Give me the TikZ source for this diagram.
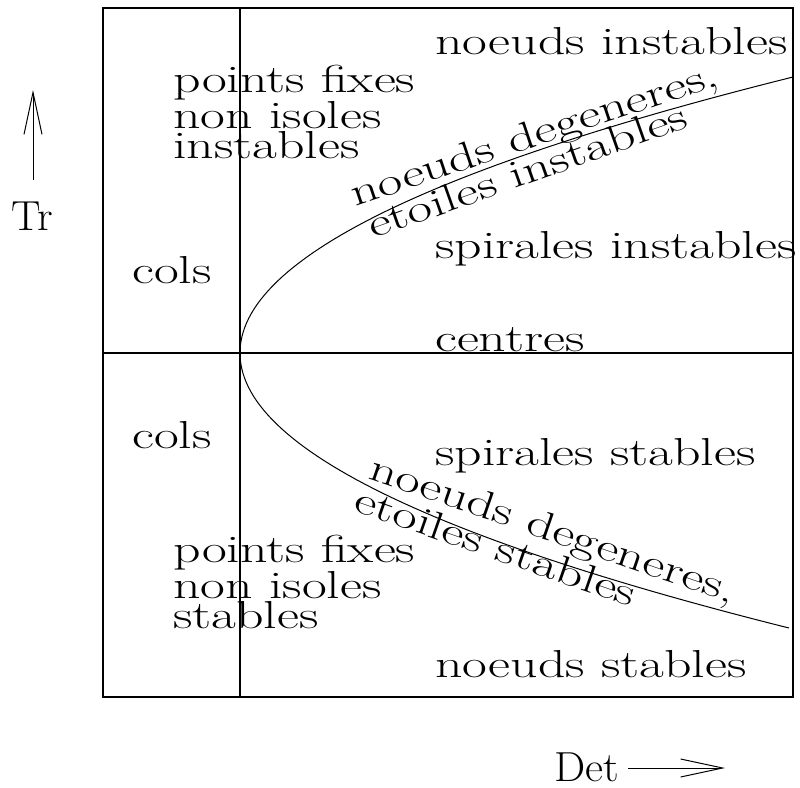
\documentclass[tikz,border=0pt]{standalone}
\usepackage{tikz}
\usetikzlibrary{arrows.meta}

\begin{document}
\begin{tikzpicture}[
      x=1pt, y=-1pt,
      lbl/.style={anchor=base west, inner sep=0pt, xscale=1.38, font=\fontsize{39}{30}\selectfont, align=left},
      axlbl/.style={inner sep=0pt, xscale=1.05, font=\fontsize{42}{30}\selectfont},
      frame/.style={line width=1.2pt},
      axis/.style={line width=1pt, -{Straight Barb[length=42pt, width=18pt, line width=1pt]}}
    ]
    \useasboundingbox (0,0) rectangle (800,787);

    % cadre et axes
    \draw[frame] (103,8) rectangle (793,697);
    \draw[frame] (240,8) -- (240,697);
    \draw[frame] (103,353) -- (793,353);
    \draw[line width=1pt] plot[domain=-276:275, samples=120] ({240+553*(\x/276)^2}, {353+\x});

    % regions
    \node[lbl] (ninst) at (435,54) {noeuds instables};
    \node[lbl] (pfinst) at (173,158) {points fixes\\non isoles\\instables};
    \node[lbl] (colsh) at (132,283) {cols};
    \node[lbl] (spinst) at (435,258) {spirales instables};
    \node[lbl] (centres) at (435,351) {centres};
    \node[lbl] (colsb) at (132,448) {cols};
    \node[lbl] (spst) at (435,465) {spirales stables};
    \node[lbl] (pfst) at (173,628) {points fixes\\non isoles\\stables};
    \node[lbl] (nst) at (435,677) {noeuds stables};

    % le long de la parabole
    \node[rotate=18.5, lbl] (ndinst) at (355,207) {noeuds degeneres,};
    \node[rotate=19.5, lbl] (etinst) at (373,239) {etoiles instables};
    \node[rotate=-19, lbl] (ndst) at (367,478) {noeuds degeneres,};
    \node[rotate=-19.2, lbl] (etst) at (352,510) {etoiles stables};

    % axes
    \node[axlbl] (tr) at (32,216) {Tr};
    \coordinate (trbas) at (33,180);
    \coordinate (trhaut) at (33,90);
    \draw[axis] (trbas) -- (trhaut);
    \node[axlbl, anchor=base west] (det) at (554,781) {Det};
    \coordinate (detdeb) at (628,768);
    \coordinate (detfin) at (725,768);
    \draw[axis] (detdeb) -- (detfin);
  \end{tikzpicture}
\end{document}
